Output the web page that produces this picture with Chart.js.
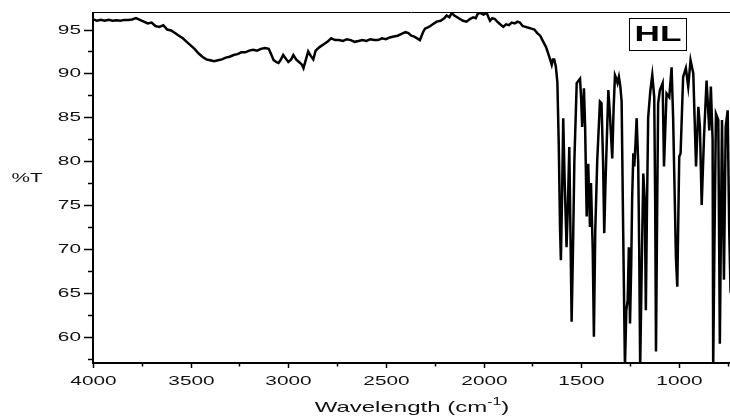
<!DOCTYPE html>
<html>
<head>
<meta charset="utf-8">
<script src="https://cdn.jsdelivr.net/npm/chart.js@4.4.0/dist/chart.umd.min.js"></script>
<style>
  html, body { margin: 0; padding: 0; background: #fff; }
  #wrap { width: 730px; height: 416px; position: relative; }
</style>
</head>
<body>
<div id="wrap"><canvas id="irChart"></canvas></div>
<script>
// IR spectrum of HL
const wavenumbers = [
  4000, 3980, 3960, 3940, 3920, 3900, 3880, 3860, 3840, 3820, 3800, 3780, 3760, 3740, 3720, 3700,
  3680, 3660, 3640, 3620, 3600, 3580, 3560, 3540, 3520, 3500, 3480, 3460, 3440, 3420, 3400, 3380,
  3360, 3340, 3320, 3300, 3280, 3260, 3240, 3220, 3200, 3180, 3160, 3140, 3120, 3100, 3090, 3075,
  3060, 3050, 3040, 3026, 3010, 3000, 2985, 2974, 2960, 2945, 2930, 2922, 2912, 2898, 2885, 2872,
  2860, 2840, 2820, 2800, 2780, 2760, 2740, 2720, 2700, 2680, 2660, 2640, 2620, 2600, 2580, 2560,
  2540, 2520, 2500, 2480, 2460, 2440, 2420, 2400, 2385, 2370, 2355, 2340, 2326, 2310, 2300, 2280,
  2260, 2240, 2220, 2200, 2189, 2175, 2163, 2150, 2135, 2121, 2105, 2087, 2070, 2053, 2040, 2030,
  2018, 2000, 1984, 1975, 1967, 1955, 1942, 1930, 1915, 1899, 1885, 1870, 1856, 1840, 1826, 1814,
  1800, 1785, 1770, 1755, 1740, 1725, 1710, 1694, 1680, 1665, 1655, 1651, 1645, 1638, 1630, 1622,
  1615, 1608, 1604, 1598, 1592, 1585, 1575, 1568, 1561, 1555, 1549, 1542, 1535, 1523, 1506, 1500,
  1495, 1486, 1480, 1472, 1464, 1455, 1450, 1441, 1435, 1428, 1418, 1404, 1396, 1388, 1382, 1375,
  1361, 1352, 1341, 1334, 1327, 1320, 1314, 1307, 1300, 1293, 1285, 1276, 1269, 1262, 1256, 1250,
  1244, 1239, 1233, 1228, 1222, 1216, 1208, 1203, 1198, 1190, 1182, 1174, 1169, 1163, 1157, 1146,
  1136, 1126, 1121, 1117, 1112, 1106, 1097, 1090, 1083, 1076, 1063, 1049, 1037, 1029, 1015, 1008,
  998, 991, 978, 964, 952, 940, 926, 912, 900, 892, 883, 871, 858, 844, 836, 827,
  824, 818, 810, 798, 790, 779, 769, 760, 750, 742, 735
];
const transmittance = [
  96.2, 96.0, 96.1, 96.0, 96.1, 96.0, 96.05, 96.0, 96.1, 96.1, 96.15, 96.3, 96.1, 95.9, 95.7, 95.8,
  95.4, 95.3, 95.5, 95.0, 94.9, 94.6, 94.3, 94.0, 93.6, 93.2, 92.8, 92.3, 91.9, 91.6, 91.5, 91.4,
  91.5, 91.6, 91.8, 91.9, 92.1, 92.2, 92.4, 92.4, 92.6, 92.7, 92.6, 92.8, 92.9, 92.8, 92.3, 91.5,
  91.3, 91.2, 91.5, 92.1, 91.6, 91.3, 91.6, 92.1, 91.6, 91.3, 91.0, 90.6, 91.4, 92.5, 92.0, 91.6,
  92.6, 93.0, 93.3, 93.6, 94.0, 93.8, 93.8, 93.7, 93.9, 93.8, 93.6, 93.7, 93.8, 93.7, 93.9, 93.8,
  93.8, 94.0, 93.9, 94.1, 94.2, 94.3, 94.5, 94.7, 94.6, 94.3, 94.2, 94.0, 93.8, 94.7, 95.1, 95.3,
  95.6, 95.9, 96.0, 96.3, 96.6, 96.4, 96.9, 96.6, 96.4, 96.2, 96.0, 95.9, 96.2, 96.4, 96.3, 96.8,
  96.9, 96.7, 96.9, 96.4, 96.0, 96.3, 96.2, 95.9, 95.6, 95.3, 95.6, 95.5, 95.8, 95.7, 95.9, 95.8,
  95.4, 95.3, 95.2, 95.1, 95.0, 94.6, 94.3, 93.6, 93.0, 92.0, 91.3, 91.0, 91.6, 91.6, 90.8, 89.0,
  82.0, 72.0, 68.7, 76.0, 84.9, 78.0, 70.2, 75.0, 81.6, 72.0, 61.7, 70.0, 80.0, 88.9, 89.4, 87.0,
  83.9, 88.3, 84.0, 73.7, 79.7, 72.5, 77.5, 70.0, 60.0, 72.0, 80.0, 86.8, 86.6, 80.0, 71.8, 78.0,
  88.1, 85.0, 80.3, 86.0, 89.8, 89.4, 88.9, 89.6, 88.6, 86.8, 72.0, 56.5, 63.0, 64.2, 70.2, 61.5,
  68.0, 75.9, 80.9, 79.4, 82.0, 84.9, 79.7, 70.0, 56.5, 68.0, 78.6, 75.2, 63.0, 75.0, 85.0, 88.0,
  89.8, 87.3, 75.0, 58.3, 72.0, 86.6, 88.1, 88.5, 88.9, 79.4, 87.7, 87.3, 90.7, 84.7, 69.1, 65.7,
  80.5, 80.9, 89.6, 90.6, 88.5, 91.5, 90.0, 79.4, 86.2, 83.9, 75.0, 82.8, 89.2, 83.5, 88.5, 82.4,
  56.5, 70.0, 85.4, 84.7, 59.2, 84.7, 66.5, 83.9, 85.8, 72.1, 65.0
];
// tick positions (major + minor) and the ones that carry a label
const xTickValues = [4000, 3750, 3500, 3250, 3000, 2750, 2500, 2250, 2000, 1750, 1500, 1250, 1000, 750];
const yTickValues = [95, 92.5, 90, 87.5, 85, 82.5, 80, 77.5, 75, 72.5, 70, 67.5, 65, 62.5, 60, 57.5];
const xTickLabels = [4000, 3500, 3000, 2500, 2000, 1500, 1000];
const yTickLabels = [95, 90, 85, 80, 75, 70, 65, 60];
const sampleName = "HL";

const FONT = "Arial, 'Liberation Sans', sans-serif";
const STRETCH = 1.6; // the reference text is wider than it is tall

function wideText(ctx, text, x, y, font, align) {
  ctx.save();
  ctx.font = font;
  ctx.textBaseline = 'middle';
  ctx.textAlign = align;
  ctx.translate(x, y);
  ctx.scale(STRETCH, 1);
  ctx.fillText(text, 0, 0);
  ctx.restore();
}

// axes, ticks and texts drawn on top of the scales
const framePlugin = {
  id: 'frame',
  afterDraw(chart) {
    const ctx = chart.ctx;
    const a = chart.chartArea;
    const xs = chart.scales.x;
    const ys = chart.scales.y;
    ctx.save();
    ctx.strokeStyle = '#000';
    ctx.fillStyle = '#111';

    ctx.lineWidth = 1;
    ctx.beginPath();
    ctx.moveTo(a.left, a.top + 0.5);
    ctx.lineTo(a.right, a.top + 0.5);
    ctx.stroke();

    ctx.lineWidth = 2;
    ctx.beginPath();
    ctx.moveTo(a.left, a.top);
    ctx.lineTo(a.left, a.bottom);
    ctx.lineTo(a.right, a.bottom);
    ctx.stroke();

    ctx.lineWidth = 1.5;
    ys.ticks.forEach(t => {
      const py = Math.round(ys.getPixelForValue(t.value)) + 0.5;
      const major = yTickLabels.includes(t.value);
      ctx.beginPath();
      ctx.moveTo(a.left, py);
      ctx.lineTo(a.left - (major ? 9 : 5), py);
      ctx.stroke();
      if (major) wideText(ctx, String(t.value), a.left - 12, py, '13px ' + FONT, 'right');
    });
    xs.ticks.forEach(t => {
      const px = Math.round(xs.getPixelForValue(t.value)) + 0.5;
      const major = xTickLabels.includes(t.value);
      ctx.beginPath();
      ctx.moveTo(px, a.bottom);
      ctx.lineTo(px, a.bottom + (major ? 5 : 3.5));
      ctx.stroke();
      if (major) wideText(ctx, String(t.value), px, a.bottom + 18, '13px ' + FONT, 'center');
    });

    wideText(ctx, '%T', 27, 178, '13px ' + FONT, 'center');

    // x title with superscript
    const mainFont = '15px ' + FONT;
    const supFont = '10px ' + FONT;
    ctx.font = mainFont;
    const w1 = ctx.measureText('Wavelength (cm').width * STRETCH;
    const w3 = ctx.measureText(')').width * STRETCH;
    ctx.font = supFont;
    const w2 = ctx.measureText('-1').width * STRETCH;
    const tx = 412 - (w1 + w2 + w3) / 2;
    const ty = 408;
    wideText(ctx, 'Wavelength (cm', tx, ty, mainFont, 'left');
    wideText(ctx, '-1', tx + w1, ty - 6, supFont, 'left');
    wideText(ctx, ')', tx + w1 + w2, ty, mainFont, 'left');

    // sample label box
    ctx.lineWidth = 1;
    ctx.strokeRect(629.5, 18.5, 57, 32);
    ctx.fillStyle = '#000';
    wideText(ctx, sampleName, 658, 35, 'bold 22px ' + FONT, 'center');
    ctx.restore();
  }
};

const points = wavenumbers.map((w, i) => ({ x: w, y: transmittance[i] }));

new Chart(document.getElementById('irChart'), {
  type: 'line',
  data: {
    datasets: [{
      data: points,
      borderColor: '#000',
      borderWidth: 2.5,
      pointRadius: 0,
      tension: 0,
      fill: false
    }]
  },
  options: {
    responsive: true,
    maintainAspectRatio: false,
    animation: false,
    layout: { padding: { top: 12, left: 0, right: 0, bottom: 0 } },
    plugins: { legend: { display: false }, tooltip: { enabled: false } },
    scales: {
      x: {
        type: 'linear',
        reverse: true,
        min: 738,
        max: 4000,
        ticks: { display: false },
        grid: { display: false },
        border: { display: false },
        afterBuildTicks: s => { s.ticks = xTickValues.map(v => ({ value: v })); },
        afterFit: s => { s.height = 53; }
      },
      y: {
        min: 57,
        max: 97,
        ticks: { display: false },
        grid: { display: false },
        border: { display: false },
        afterBuildTicks: s => { s.ticks = yTickValues.map(v => ({ value: v })); },
        afterFit: s => { s.width = 93; }
      }
    }
  },
  plugins: [framePlugin]
});
</script>
</body>
</html>
